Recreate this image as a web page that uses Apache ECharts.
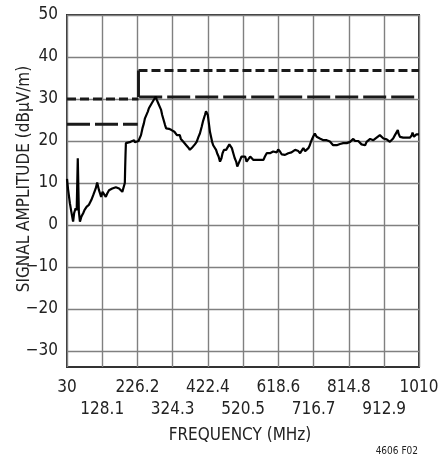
<!DOCTYPE html>
<html>
<head>
<meta charset="utf-8">
<script src="https://cdn.jsdelivr.net/npm/echarts@6/dist/echarts.min.js"></script>
<style>
html,body{margin:0;padding:0;background:#fff;}
#c{width:442px;height:455px;}
</style>
</head>
<body>
<div id="c"></div>
<script>
// ---- data ----
const freqMHz = [30,33,38,42,47,50,54,57,60,63,66,70,75,79,85,91,98,103,110,114,116,119,122,125,129,133,138,142,147,152,156,161,166,170,175,180,184,187,191,192,193,194,198,207,217,
219,229,233,236,240,244,247,250,255,258,262,266,269,273,277,280,284,288,292,295,299,303,306,310,314,318,321,325,329,333,336,340,344,347,351,355,358,362,368,372,
380,386,391,396,400,405,409,414,417,419,422,425,428,431,434,437,441,445,448,452,456,460,463,467,473,476,482,486,489,493,497,501,504,508,512,516,521,526,530,535,540,544,549,553,558,563,567,572,577,581,586,590,595,
600,604,609,614,618,623,628,632,637,642,646,651,655,660,665,669,674,679,683,688,693,697,702,706,709,713,717,720,725,730,734,739,744,748,753,757,762,767,771,776,781,785,790,795,799,804,809,813,
818,822,827,832,836,841,846,850,855,860,864,869,874,878,883,888,892,897,901,906,911,915,920,925,929,934,938,943,948,951,953,957,962,966,971,976,980,985,990,992,996,1000,1003,1008,1010];
const amplitude = [11.0,8.5,5.2,3.2,0.8,2.9,4.0,3.5,15.9,3.2,0.8,2.0,2.8,3.6,4.4,4.8,6.0,7.1,8.7,10.1,10.3,8.3,7.5,6.7,7.9,7.5,6.7,7.5,8.3,8.5,8.7,9.1,9.0,9.3,8.7,8.5,7.9,8.3,10.0,13.9,17.0,19.5,19.8,19.8,20.2,
19.7,20.0,20.2,21.4,23.0,24.2,25.4,25.8,27.0,27.8,28.2,29.0,29.4,30.0,30.6,29.8,29.0,28.2,27.4,26.2,25.0,23.8,23.0,23.2,22.9,23.2,22.6,23.0,22.2,22.4,21.4,21.0,21.4,20.5,20.2,19.7,19.4,19.0,18.4,17.9,
18.6,19.2,19.8,21.0,21.8,23.4,24.8,26.2,27.1,27.4,26.2,24.2,22.2,21.0,19.8,19.0,18.6,17.9,17.1,16.3,15.1,15.9,17.1,17.9,17.9,18.3,19.2,19.0,18.3,17.1,15.9,15.1,13.9,14.3,15.5,16.3,15.9,16.3,15.1,15.5,16.3,15.9,15.5,15.9,15.5,15.9,15.5,15.7,15.5,16.3,17.1,16.8,17.1,
17.1,17.5,17.6,17.3,18.0,17.5,16.8,17.1,16.7,16.9,17.1,16.7,17.3,17.5,17.9,18.3,17.6,17.1,17.5,18.3,17.6,17.5,18.3,19.0,19.8,20.6,21.3,21.8,21.0,20.8,20.6,20.5,20.2,20.5,20.2,19.8,19.9,19.5,19.0,18.6,19.0,18.6,19.3,19.4,19.5,19.2,19.5,19.6,
19.8,20.2,20.5,20.0,19.8,20.0,19.7,19.2,19.5,19.0,19.8,20.0,20.5,20.6,20.2,20.5,20.8,21.0,21.4,21.0,20.6,20.2,20.4,20.5,19.8,20.2,20.6,21.4,21.8,22.6,21.8,21.0,20.6,20.8,21.0,20.8,21.0,20.8,21.4,22.0,21.0,21.3,21.6,21.8,21.6];

// short-dash limit: low segment, step, high segment
const limitShortLowFreq  = [30, 229];
const limitShortLowAmp   = [30, 30];
const limitShortStepFreq = [229, 229];
const limitShortStepAmp  = [30.5, 36.8];
const limitShortHighFreq = [229, 1010];
const limitShortHighAmp  = [36.8, 36.8];
// long-dash limit
const limitLongLowFreq  = [30, 227];
const limitLongLowAmp   = [24, 24];
const limitLongHighFreq = [231, 1010];
const limitLongHighAmp  = [30.5, 30.5];

const xMin = 30, xMax = 1010, xStep = 98.1;
const xLabelsRow1 = [30, 226.2, 422.4, 618.6, 814.8, 1010];
const xLabelsRow2 = [128.1, 324.3, 520.5, 716.7, 912.9];
const yMin = -33.8, yMax = 50;
const yTicks = [-30, -20, -10, 0, 10, 20, 30, 40, 50];
const xTitle = 'FREQUENCY (MHz)';
const yTitle = 'SIGNAL AMPLITUDE (dBμV/m)';
const footnote = '4606 F02';

// ---- chart ----
const zip = (a, b) => a.map((v, i) => [v, b[i]]);
const FONT = "'DejaVu Sans Condensed', 'Liberation Sans Narrow', sans-serif";
const chart = echarts.init(document.getElementById('c'), null, {renderer: 'canvas'});

const fmtX = (v) => {
  const r = Math.round(v * 10) / 10;
  return Number.isInteger(r) ? String(r) : r.toFixed(1);
};
const fmtY = (v) => {
  const r = Math.round(v);
  return r < 0 ? '\u2212' + Math.abs(r) : String(r);
};
const labelStyle = {fontFamily: FONT, fontSize: 17, color: '#222'};
const limitLine = (f, a, type) => ({type: 'line', data: zip(f, a), showSymbol: false, silent: true,
  lineStyle: {color: '#1a1a1a', width: 3, type: type}, z: 3});

chart.setOption({
  animation: false,
  backgroundColor: '#fff',
  grid: {left: 67, right: 23, top: 15, bottom: 88, show: true, borderColor: '#333', borderWidth: 2, backgroundColor: 'transparent', outerBoundsMode: 'none', containLabel: false},
  xAxis: [{
    type: 'value', min: xMin, max: xMax, interval: xStep,
    axisLine: {show: false}, axisTick: {show: false},
    splitLine: {show: true, lineStyle: {color: '#808080', width: 1.4}},
    axisLabel: Object.assign({customValues: xLabelsRow1, formatter: fmtX, margin: 12, hideOverlap: false, showMinLabel: true, showMaxLabel: true}, labelStyle)
  }, {
    type: 'value', min: xMin, max: xMax, interval: xStep, position: 'bottom',
    axisLine: {show: false}, axisTick: {show: false}, splitLine: {show: false},
    axisLabel: Object.assign({customValues: xLabelsRow2, formatter: fmtX, margin: 34, hideOverlap: false}, labelStyle)
  }],
  yAxis: {
    type: 'value', min: yMin, max: yMax,
    axisLine: {show: false},
    axisTick: {show: false, customValues: yTicks},
    splitLine: {show: true, customValues: yTicks, lineStyle: {color: '#808080', width: 1.4}},
    axisLabel: Object.assign({customValues: yTicks, formatter: fmtY, margin: 9}, labelStyle)
  },
  graphic: [
    {type: 'text', x: 240, y: 436, style: {text: xTitle, font: '17px ' + FONT, fill: '#222', align: 'center', verticalAlign: 'middle'}},
    {type: 'text', x: 25, y: 179, rotation: Math.PI / 2, style: {text: yTitle, font: '17px ' + FONT, fill: '#222', align: 'center', verticalAlign: 'middle'}},
    {type: 'text', x: 418, y: 451, style: {text: footnote, font: '10px ' + FONT, fill: '#222', align: 'right', verticalAlign: 'middle'}}
  ],
  series: [
    limitLine(limitShortLowFreq, limitShortLowAmp, [9, 4]),
    limitLine(limitShortStepFreq, limitShortStepAmp, 'solid'),
    limitLine(limitShortHighFreq, limitShortHighAmp, [9, 4]),
    limitLine(limitLongLowFreq, limitLongLowAmp, [23, 5]),
    limitLine(limitLongHighFreq, limitLongHighAmp, [23, 5]),
    {type: 'line', data: zip(freqMHz, amplitude), showSymbol: false, lineStyle: {color: '#000', width: 2.2}, z: 4}
  ]
});
</script>
</body>
</html>
